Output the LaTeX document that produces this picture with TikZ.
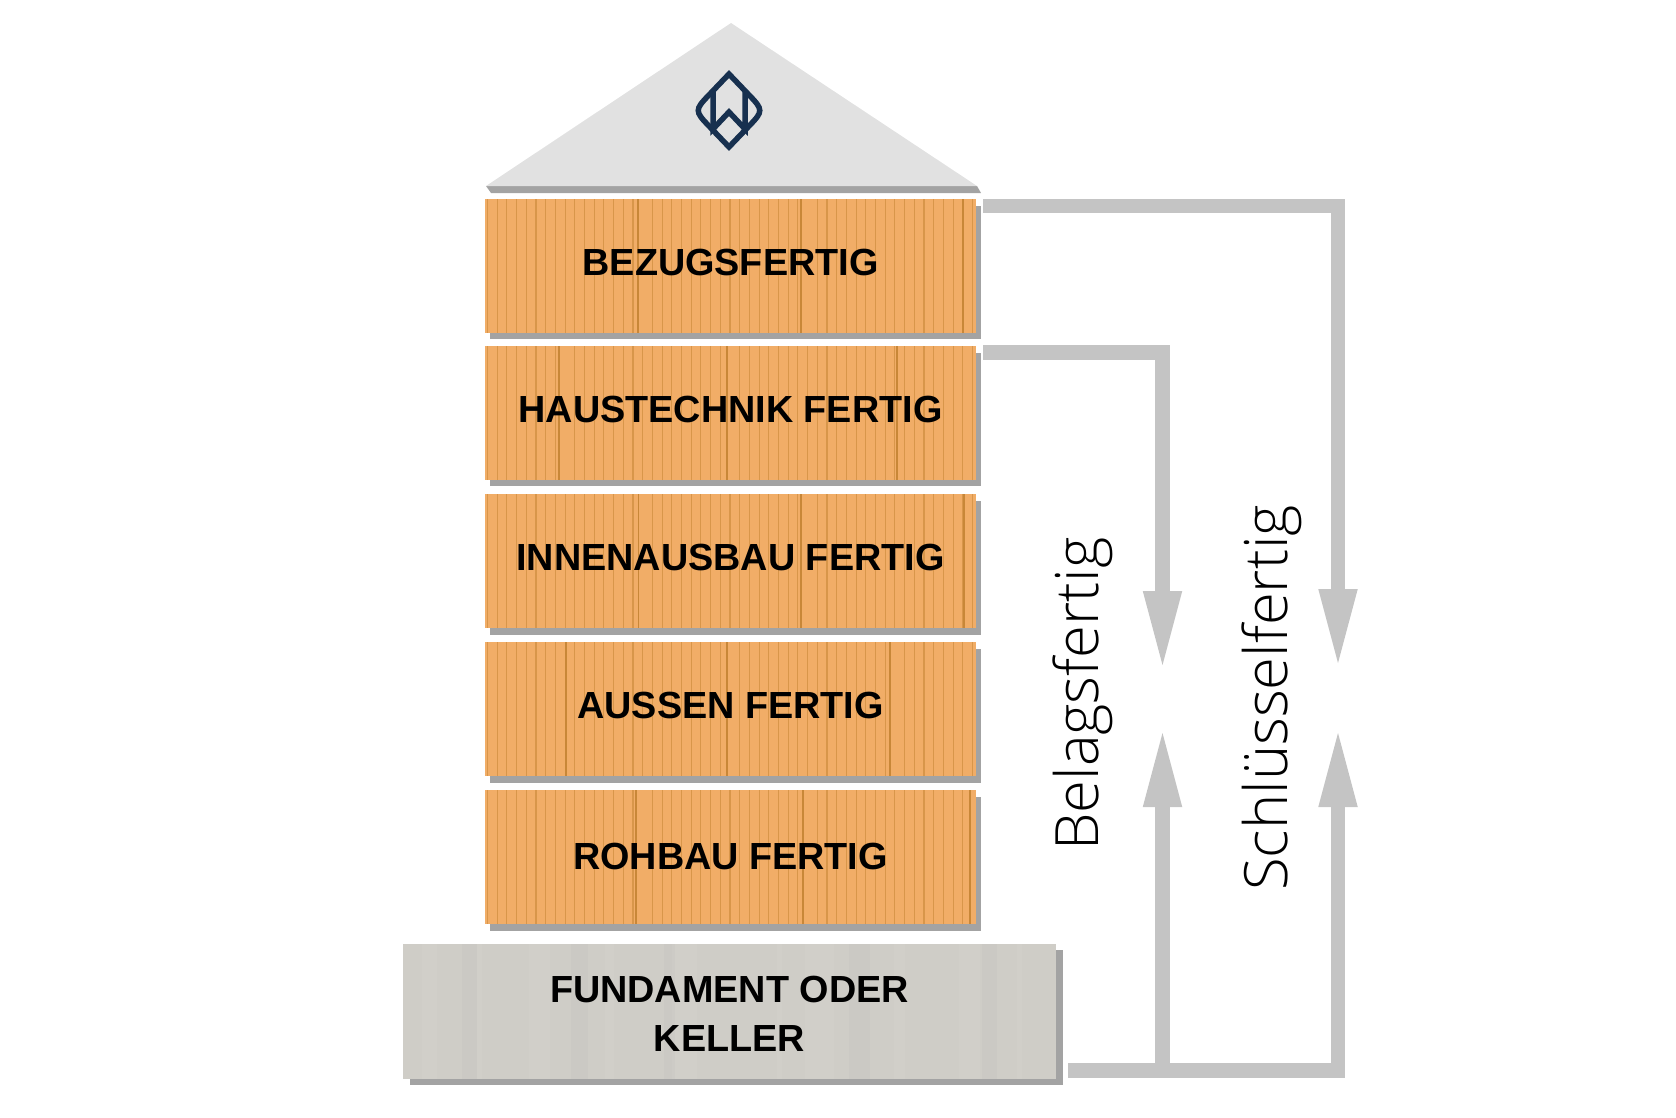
\documentclass[tikz,border=0pt]{standalone}
\usepackage{fontspec}
\setmainfont{Liberation Sans}
\newfontfamily\labelfont{Open Sans Light}
\usetikzlibrary{arrows.meta,shadows}
\definecolor{brickfill}{HTML}{F1AD67}
\definecolor{brickline}{HTML}{C88738}
\definecolor{shadowgray}{HTML}{A3A3A3}
\definecolor{bargray}{HTML}{C4C4C4}
\definecolor{roofgray}{HTML}{E1E1E1}
\definecolor{concrete}{HTML}{CFCDC7}
\definecolor{logoblue}{HTML}{17304F}

\begin{document}
\begin{tikzpicture}[x=0.02cm,y=-0.02cm]
        %
        % `brick' is one storey, `base' the block under the house.
        % `joints' takes the brick joints, counted from the middle of the brick.
        % `bar' is used for the grey arrows on the right.
        \tikzstyle{storeytext} = [font=\bfseries\fontsize{21.5}{27.5}\selectfont,text=black,inner sep=0pt]
        \tikzstyle{brick} = [storeytext,fill=brickfill,minimum width=9.82cm,minimum height=2.68cm,text height=0.56cm,text depth=0.19cm,
        	drop shadow={shadow xshift=0.1cm,shadow yshift=-0.13cm,fill=shadowgray,opacity=1}]
        \tikzstyle{base} = [storeytext,fill=concrete,minimum width=13.06cm,minimum height=2.7cm,align=center,text height=45pt,
        	drop shadow={shadow xshift=0.14cm,shadow yshift=-0.12cm,fill=shadowgray,opacity=1}]
        \tikzstyle{bar} = [draw=bargray,line width=0.29cm,line join=miter,-{Triangle[length=1.48cm,width=0.79cm,fill=bargray,line width=0pt]}]
        \tikzstyle{sidetext} = [font=\labelfont\fontsize{34}{34}\selectfont,rotate=90,anchor=base west,inner sep=0pt]
        \tikzset{joints/.style={path picture={
        	\foreach \j in {-243,-233.3,...,245}
        		\draw[brickline,opacity=0.6,line width=0.65pt] ([xshift=\j*0.02cm]path picture bounding box.north) -- ([xshift=\j*0.02cm]path picture bounding box.south);
        	\foreach \j in {#1} {
        		\draw[brickfill,line width=5pt] ([xshift=\j*0.02cm+0.06cm]path picture bounding box.north) -- ([xshift=\j*0.02cm+0.06cm]path picture bounding box.south);
        		\draw[brickline,line width=1.1pt] ([xshift=\j*0.02cm]path picture bounding box.north) -- ([xshift=\j*0.02cm]path picture bounding box.south);
        	}
        }}}
        \tikzset{streaks/.style={path picture={
        	\foreach \j/\w in {-300/9,-250/3,-190/12,-120/5,-45/14,50/3,90/16,170/6,240/12,290/3}
        		\draw[white,opacity=0.05,line width=\w pt] ([xshift=\j*0.02cm]path picture bounding box.north) -- ([xshift=\j*0.02cm]path picture bounding box.south);
        	\foreach \j/\w in {-260/8,-150/10,-60/6,130/12,260/8}
        		\draw[gray,opacity=0.04,line width=\w pt] ([xshift=\j*0.02cm]path picture bounding box.north) -- ([xshift=\j*0.02cm]path picture bounding box.south);
        }}}
        %
        \useasboundingbox (0,0) rectangle (1676,1117);
        %
        % Roof
        \coordinate (rooftop) at (731,23);
        \coordinate (roofleft) at (486,186);
        \coordinate (roofright) at (977,186);
        \fill[shadowgray] (roofleft) -- (roofright) -- (981,193) -- (491,193) -- cycle;
        \fill[roofgray] (rooftop) -- (roofright) -- (roofleft) -- cycle;
        %
        % Logo
        \draw[logoblue,line width=0.11cm,line join=miter] (729,74) -- (708,96) .. controls (695,109.5) and (695,111.5) .. (708,125) -- (729,147) -- (750,125) .. controls (763,111.5) and (763,109.5) .. (750,96) -- cycle;
        \draw[logoblue,line width=0.11cm,line join=miter] (713,91) -- (713,129) -- (729,112) -- (745,129) -- (745,91);
        %
        % Storeys
        \node[brick,joints={-92.5,70.5,232.5}] (bezug) at (730.5,266) {BEZUGSFERTIG};
        \node[brick,joints={-171.5,-3.5,166.5}] (technik) at (730.5,413) {HAUSTECHNIK FERTIG};
        \node[brick,joints={-92,70.5,233.5}] (innen) at (730.5,561) {INNENAUSBAU FERTIG};
        \node[brick,joints={-164.5,-3.5,159.5}] (aussen) at (730.5,709) {AUSSEN FERTIG};
        \node[brick,joints={-94.5,72.5,239.5},text depth=0.06cm] (rohbau) at (730.5,857) {ROHBAU FERTIG};
        %
        % Foundation
        \node[base,streaks] (fundament) at (729.5,1011.5) {FUNDAMENT ODER\\KELLER};
        %
        % Arrows from the top
        \coordinate (schluesselstart) at (983,206);
        \coordinate (schluesseltip) at (1338,663);
        \coordinate (belagstart) at (983,352.5);
        \coordinate (belagtip) at (1162.5,665);
        \draw[bar] (schluesselstart) -| (schluesseltip);
        \draw[bar] (belagstart) -| (belagtip);
        %
        % Arrows from the foundation
        \coordinate (fundamentstart) at (1068,1070.5);
        \coordinate (schluesselbase) at (1338,733);
        \coordinate (belagbase) at (1162.5,733);
        \draw[bar] (fundamentstart) -| (schluesselbase);
        \draw[bar] (fundamentstart) -| (belagbase);
        %
        % Side labels
        \node[sidetext] (belagtext) at (1098,851) {Belagsfertig};
        \node[sidetext] (schluesseltext) at (1287,891) {Schlüsselfertig};
        %
\end{tikzpicture}
\end{document}
